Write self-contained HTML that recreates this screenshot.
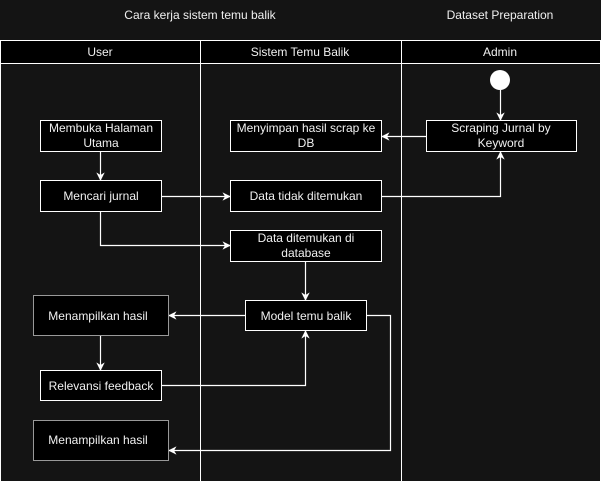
<!DOCTYPE html>
<html><head><style>html,body{margin:0;padding:0;background:#141414;}svg{display:block}</style></head>
<body>
<svg width="601" height="481" xmlns="http://www.w3.org/2000/svg" font-family="Liberation Sans, sans-serif" font-size="12">
<defs><marker id="a" viewBox="0 0 10 10" refX="9" refY="5" markerWidth="7" markerHeight="7" orient="auto"><path d="M0,0 L10,5 L0,10 L3,5 z" fill="#fff"/></marker></defs>
<rect width="601" height="481" fill="#141414"/>
<text x="200" y="19" fill="#f0f0f0" text-anchor="middle">Cara kerja sistem temu balik</text>
<text x="500" y="19" fill="#f0f0f0" text-anchor="middle">Dataset Preparation</text>
<rect x="0.5" y="40.5" width="600" height="23" fill="#000" stroke="#fff"/>
<line x1="0.5" y1="40" x2="0.5" y2="481" stroke="#fff"/>
<line x1="600.5" y1="40" x2="600.5" y2="481" stroke="#fff"/>
<line x1="200.5" y1="40" x2="200.5" y2="481" stroke="#fff"/>
<line x1="401.5" y1="40" x2="401.5" y2="481" stroke="#fff"/>
<g fill="#f0f0f0" text-anchor="middle">
<text x="100" y="56">User</text><text x="300" y="56">Sistem Temu Balik</text><text x="500" y="56">Admin</text>
</g>
<circle cx="500" cy="80" r="10" fill="#fff"/>
<g fill="none" stroke="#fff" stroke-width="1.2" marker-end="url(#a)">
<path d="M500.5 90 V120"/>
<path d="M426 136.5 H382"/>
<path d="M100.5 152 V180"/>
<path d="M161 196.5 H230"/>
<path d="M381 196.5 H500.5 V152"/>
<path d="M100.5 211 V245.5 H230"/>
<path d="M305.5 261 V300"/>
<path d="M245 315.5 H169"/>
<path d="M100.5 336 V370"/>
<path d="M161 385.5 H305.5 V331"/>
<path d="M366 315.5 H390.5 V450.5 H169"/>
</g>
<g fill="#000" stroke="#fff">
<rect x="40.5" y="120.5" width="121" height="31"/>
<rect x="40.5" y="180.5" width="121" height="31"/>
<rect x="230.5" y="120.5" width="151" height="31"/>
<rect x="426.5" y="120.5" width="150" height="31"/>
<rect x="230.5" y="180.5" width="151" height="31"/>
<rect x="230.5" y="230.5" width="151" height="31"/>
<rect x="245.5" y="300.5" width="121" height="30"/>
<rect x="40.5" y="370.5" width="121" height="30"/>
<rect x="33.5" y="295.5" width="135" height="40" stroke="#999"/>
<rect x="33.5" y="420.5" width="135" height="40" stroke="#999"/>
</g>
<g fill="#f0f0f0" text-anchor="middle">
<text x="101" y="132">Membuka Halaman</text><text x="101" y="147">Utama</text>
<text x="101" y="200">Mencari jurnal</text>
<text x="306" y="132">Menyimpan hasil scrap ke</text><text x="306" y="147">DB</text>
<text x="501" y="132">Scraping Jurnal by</text><text x="501" y="147">Keyword</text>
<text x="306" y="200">Data tidak ditemukan</text>
<text x="306" y="242">Data ditemukan di</text><text x="306" y="257">database</text>
<text x="306" y="320">Model temu balik</text>
<text x="101" y="390">Relevansi feedback</text>
<text x="98" y="320">Menampilkan hasil</text>
<text x="98" y="444">Menampilkan hasil</text>
</g>
</svg>
</body></html>
